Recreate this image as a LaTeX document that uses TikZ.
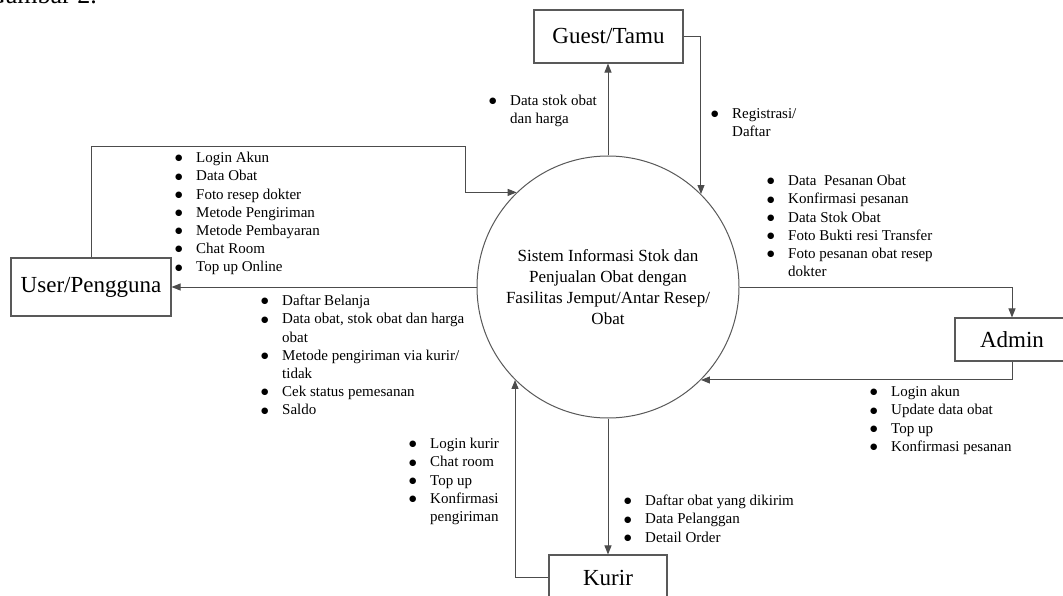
\documentclass[tikz,border=0pt]{standalone}
\usepackage{fontspec}
\setmainfont{Liberation Serif}
\newfontfamily\symfont{DejaVu Sans}
\usetikzlibrary{arrows.meta}
\tikzset{
  entity/.style={draw=black!65, line width=1.1pt, fill=white, font=\fontsize{23}{26}\selectfont, inner sep=0},
  proc/.style={circle, draw=black!65, line width=1pt, minimum size=262pt, inner sep=0, align=center, font=\fontsize{17}{21}\selectfont},
  flow/.style={draw=black!70, line width=1pt, -{Triangle[length=9pt,width=7pt]}},
  lst/.style={anchor=north west, inner sep=0, align=left, font=\fontsize{15}{18.2}\selectfont},
}
\newcommand\bi[1]{\makebox[21pt][l]{\raisebox{1.8pt}{\symfont\fontsize{8.5}{9}\selectfont ●}}#1}
\newcommand\ci[1]{\hspace*{21pt}#1}
\begin{document}
\begin{tikzpicture}[x=1pt,y=-1pt]
\useasboundingbox (0,0) rectangle (1063,596);
\fill[white] (0,0) rectangle (1063,596);

\node[anchor=base east, inner sep=0, font=\fontsize{26}{30}\selectfont] (cap) at (97,4) {Gambar 2.};

\node[proc] (sys) at (608,287) {Sistem Informasi Stok dan\\Penjualan Obat dengan\\Fasilitas Jemput/Antar Resep/\\Obat};
\node[entity, minimum width=149pt, minimum height=53pt] (guest) at (608.5,36.5) {Guest/Tamu};
\node[entity, minimum width=160pt, minimum height=58pt] (user) at (91,287) {User/Pengguna};
\node[entity, minimum width=114pt, minimum height=43pt] (admin) at (1012,339.5) {Admin};
\node[entity, minimum width=118pt, minimum height=45pt] (kurir) at (608,577.5) {Kurir};

\coordinate (ut) at (465,147);
\draw[flow] (sys.north) -- (sys.north |- guest.south);
\draw[flow] (guest.east) -| (sys.45);
\draw[flow] (user.north) |- (ut) |- (sys.134);
\draw[flow] (sys.west) -- (user.east);
\draw[flow] (sys.east) -| (admin.north);
\draw[flow] (admin.south) |- (sys.-45);
\draw[flow] (sys.south) -- (kurir.north);
\draw[flow] (kurir.west) -| (sys.225);

\node[lst] (ul1) at (175,152) {\bi{Login Akun}\\\bi{Data Obat}\\\bi{Foto resep dokter}\\\bi{Metode Pengiriman}\\\bi{Metode Pembayaran}\\\bi{Chat Room}\\\bi{Top up Online}};
\node[lst] (ul2) at (261,295) {\bi{Daftar Belanja}\\\bi{Data obat, stok obat dan harga}\\\ci{obat}\\\bi{Metode pengiriman via kurir/}\\\ci{tidak}\\\bi{Cek status pemesanan}\\\bi{Saldo}};
\node[lst] (gl1) at (489,95) {\bi{Data stok obat}\\\ci{dan harga}};
\node[lst] (gl2) at (711,108) {\bi{Registrasi/}\\\ci{Daftar}};
\node[lst] (al1) at (767,175) {\bi{Data\ \ Pesanan Obat}\\\bi{Konfirmasi pesanan}\\\bi{Data Stok Obat}\\\bi{Foto Bukti resi Transfer}\\\bi{Foto pesanan obat resep}\\\ci{dokter}};
\node[lst] (al2) at (870,386) {\bi{Login akun}\\\bi{Update data obat}\\\bi{Top up}\\\bi{Konfirmasi pesanan}};
\node[lst] (kl1) at (409,438) {\bi{Login kurir}\\\bi{Chat room}\\\bi{Top up}\\\bi{Konfirmasi}\\\ci{pengiriman}};
\node[lst] (kl2) at (624,495) {\bi{Daftar obat yang dikirim}\\\bi{Data Pelanggan}\\\bi{Detail Order}};
\end{tikzpicture}
\end{document}
